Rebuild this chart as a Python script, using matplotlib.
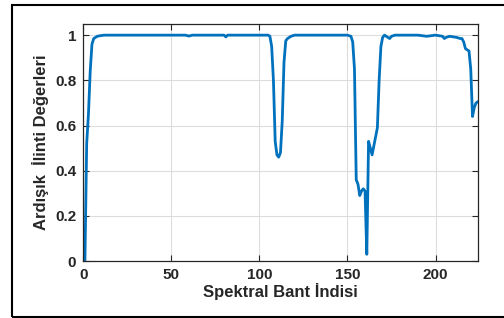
import matplotlib
matplotlib.use("Agg")
import matplotlib.pyplot as plt
from matplotlib.patches import Rectangle

# band index and adjacent-band correlation values
band = [1, 2, 3, 4, 5, 6, 7, 8, 10, 12, 20, 40, 58, 60, 62, 80, 81, 82, 100,
        105, 106, 107, 108, 109, 110, 111, 112, 113, 114, 115, 116, 118, 120,
        130, 150, 152, 153, 154, 155, 156, 157, 158, 159, 160, 161, 162, 163,
        164, 165, 166, 167, 168, 169, 170, 171, 172, 173, 174, 175, 177, 190,
        195, 200, 204, 205, 206, 208, 212, 214, 215, 216, 217, 218, 219, 220,
        221, 222, 223, 224]
corr = [0.0, 0.52, 0.65, 0.84, 0.96, 0.985, 0.99, 0.995, 0.998, 1.0, 1.0, 1.0, 1.0, 0.996, 1.0, 1.0, 0.992, 1.0, 1.0,
        1.0, 0.995, 0.95, 0.80, 0.53, 0.47, 0.46, 0.48, 0.62, 0.88, 0.975, 0.985, 0.995, 1.0,
        1.0, 1.0, 0.995, 0.97, 0.85, 0.36, 0.34, 0.29, 0.31, 0.32, 0.31, 0.03, 0.53, 0.50,
        0.47, 0.51, 0.55, 0.59, 0.80, 0.95, 0.99, 1.0, 0.995, 0.99, 0.985, 0.995, 1.0, 1.0,
        0.995, 1.0, 0.995, 0.985, 0.99, 0.995, 0.99, 0.985, 0.985, 0.97, 0.94, 0.935, 0.93, 0.85,
        0.64, 0.68, 0.70, 0.705]

xticks = [0, 50, 100, 150, 200]
yticks = [0, 0.2, 0.4, 0.6, 0.8, 1]
yticklabels = ["0", "0.2", "0.4", "0.6", "0.8", "1"]

plt.rcParams['font.family'] = ['Liberation Sans', 'DejaVu Sans']
plt.rcParams['font.weight'] = 'bold'

fig = plt.figure(figsize=(5.04, 3.18), dpi=100)
ax = fig.add_axes([0.165, 0.179, 0.783, 0.746])

ax.plot(band, corr, color="#0072BD", linewidth=2.0)

ax.set_xlim(0, 224)
ax.set_ylim(0, 1.05)
ax.set_xticks(xticks)
ax.set_yticks(yticks)
ax.set_yticklabels(yticklabels)
ax.grid(True, color="#dcdcdc", linewidth=0.8)
ax.set_axisbelow(True)
ax.tick_params(direction="in", top=True, right=True, length=4, width=0.8,
               labelsize=11, colors="#262626", pad=5)
for lbl in ax.get_xticklabels() + ax.get_yticklabels():
    lbl.set_fontweight("bold")
for sp in ax.spines.values():
    sp.set_color("#262626")
    sp.set_linewidth(0.9)

ax.set_xlabel("Spektral Bant İndisi", fontsize=12, fontweight="bold", color="#262626", labelpad=1)
ax.set_ylabel("Ardışık  İlinti Değerleri", fontsize=12, fontweight="bold", color="#262626", labelpad=4)

# outer frame around the figure
fig.patches.append(Rectangle((12 / 504, 1.5 / 318), 1.0, 1 - 6.5 / 318,
                             transform=fig.transFigure, fill=False,
                             edgecolor="black", linewidth=1.5))

fig.savefig("out.png", dpi=100)
